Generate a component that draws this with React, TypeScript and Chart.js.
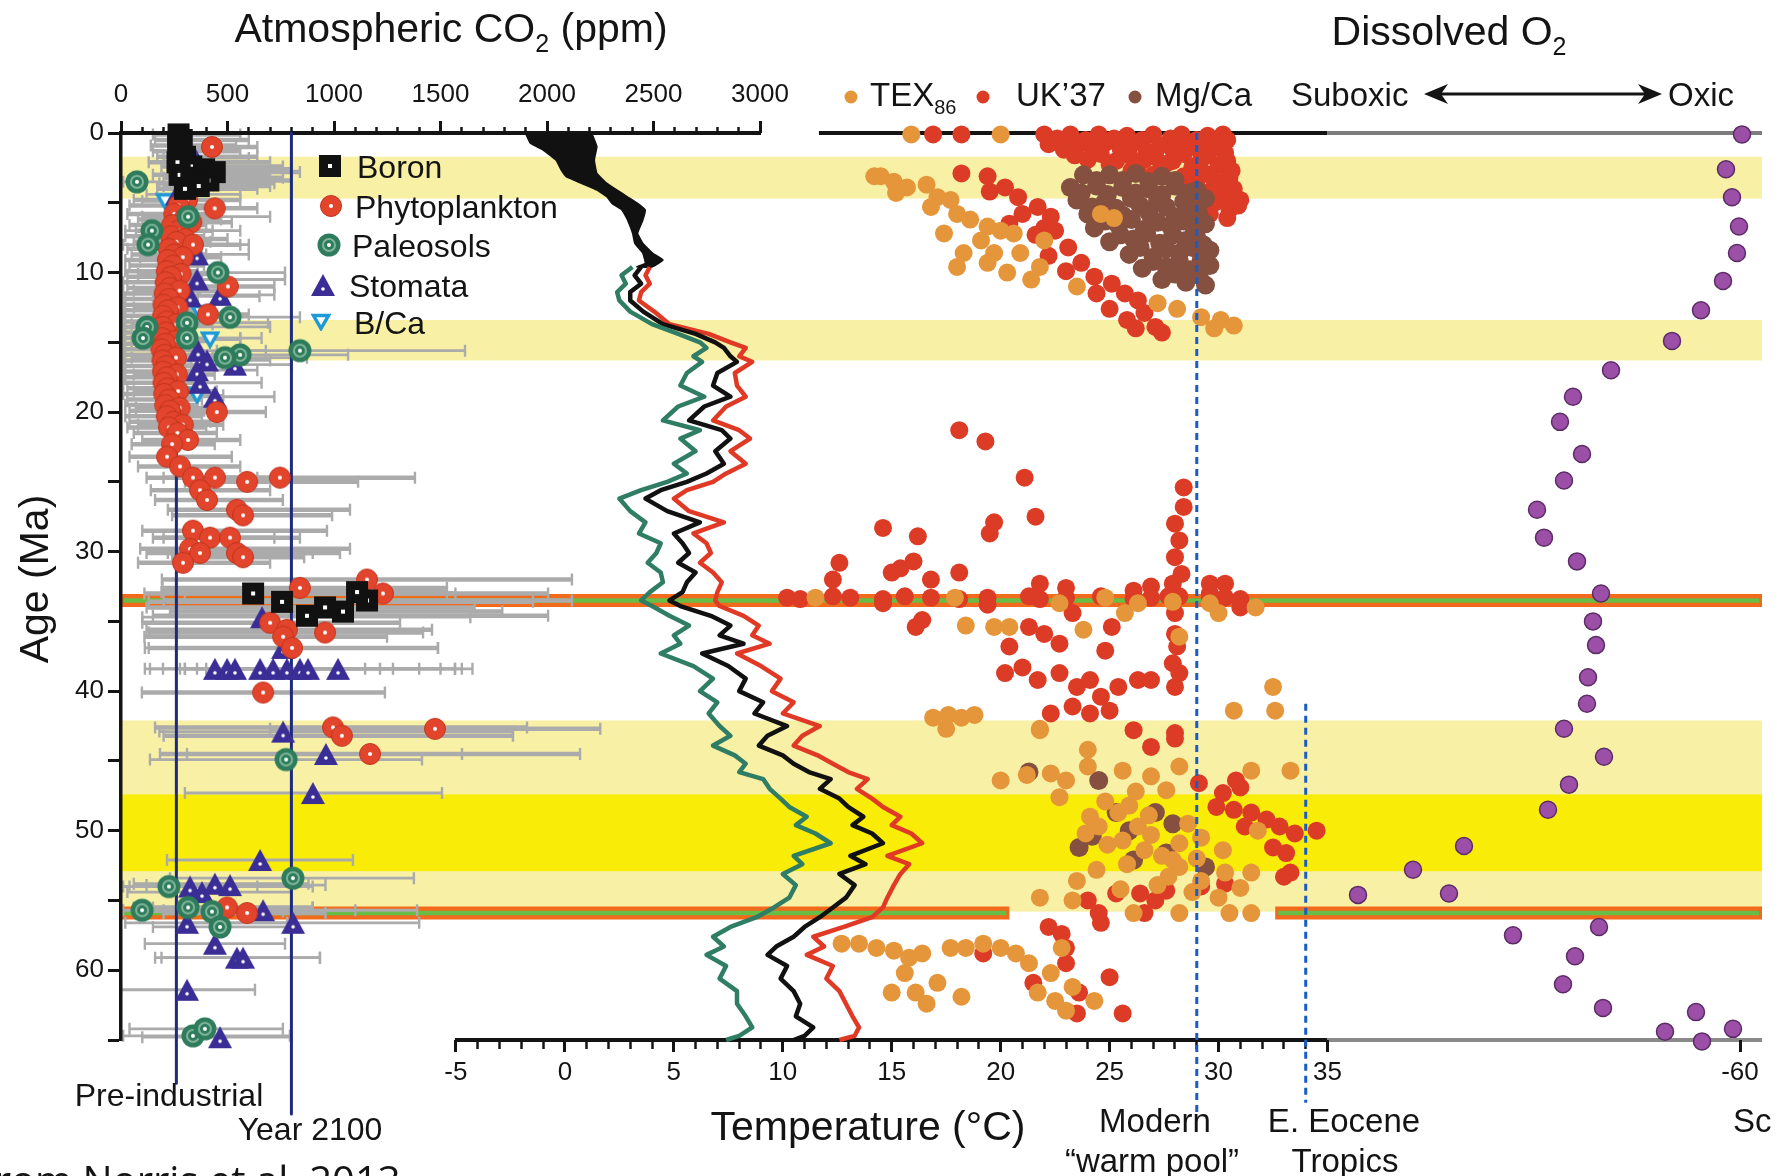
import React, { useEffect, useRef } from 'react';
import { Chart, registerables } from 'chart.js';

Chart.register(...registerables);

const FONT = '"Liberation Sans", Arial, Helvetica, sans-serif';
const INK = '#141414';

// ---------------- axes ----------------
const AGE_RANGE = [0, 65];
const CO2_RANGE = [0, 7704];
const TEMP_RANGE = [-20.37, 54.94];
const O2_RANGE = [-62.2, 101.9];
const CO2_MAJOR_TICKS = [0, 500, 1000, 1500, 2000, 2500, 3000];
const TEMP_MAJOR_TICKS = [-5, 0, 5, 10, 15, 20, 25, 30, 35];
const O2_TICKS = [-60];

// ---------------- reference lines / bands ----------------
const PRE_INDUSTRIAL_CO2 = 260;
const YEAR_2100_CO2 = 800;
const PRE_INDUSTRIAL_AGES = [0, 68.1];
const YEAR_2100_AGES = [0, 70.3];
const WARM_POOL_T = 29;
const WARM_POOL_AGES = [0, 70.2];
const EOCENE_TROPICS_T = 34;
const EOCENE_TROPICS_AGES = [40.9, 69.5];
const LIGHT_BANDS = [[1.7, 4.7], [13.4, 16.3], [42.1, 55.8]];
const BRIGHT_BANDS = [[47.4, 52.9]];
const EOT_AGE = 33.5;
const PETM_AGE = 55.9;
const PETM_GAP_T = [20.4, 32.6];

// ---------------- CO2 proxies: [age Ma, CO2 ppm, low, high] ----------------
const BORON = [
  [0.1, 270, 150, 560], [0.5, 285, 160, 600], [0.9, 268, 140, 540], [1.3, 280, 150, 560],
  [1.7, 300, 170, 640], [2.1, 265, 130, 700], [2.4, 330, 190, 760], [2.6, 390, 220, 800],
  [2.8, 440, 260, 840], [3.0, 275, 150, 700], [3.2, 350, 200, 760], [3.4, 410, 230, 800],
  [3.6, 330, 180, 720], [3.8, 365, 200, 700], [4.0, 300, 170, 640],
  [33.0, 620, 110, 1570], [33.6, 756, 130, 1934], [34.6, 873, 150, 2005], [34.0, 958, 120, 1660],
  [34.3, 1042, 230, 1790], [33.5, 1155, 200, 2117], [32.9, 1108, 190, 1530],
];
const PHYTOPLANKTON = [
  [1.0, 427, 240, 640], [4.8, 310, 60, 560], [5.2, 270, 40, 480], [5.4, 440, 240, 640],
  [5.8, 250, 30, 420], [6.2, 295, 80, 470], [6.4, 330, 120, 520], [6.6, 240, 40, 400], [7.0, 270, 70, 430],
  [7.4, 235, 20, 390], [7.6, 300, 100, 500], [7.8, 260, 60, 420], [8.0, 338, 150, 560], [8.3, 225, 30, 380],
  [8.7, 250, 50, 400], [8.9, 290, 90, 470], [9.1, 220, 20, 370], [9.5, 245, 40, 390], [9.9, 215, 20, 360],
  [10.1, 280, 80, 460], [10.3, 235, 30, 380], [10.7, 210, 10, 350], [11.0, 502, 300, 720], [11.1, 230, 30, 370],
  [11.3, 275, 60, 450], [11.5, 205, 10, 340], [11.9, 225, 20, 360], [12.3, 200, 10, 330], [12.5, 265, 60, 440],
  [12.7, 220, 20, 350], [13.0, 408, 220, 600], [13.1, 198, 10, 330], [13.5, 215, 20, 340], [13.7, 260, 50, 430],
  [13.9, 195, 10, 320], [14.3, 210, 20, 330], [14.7, 192, 10, 320], [14.9, 255, 50, 420], [15.1, 208, 20, 340],
  [15.5, 190, 10, 330], [15.9, 205, 20, 340], [16.1, 258, 50, 430], [16.3, 195, 10, 330], [16.7, 212, 20, 350],
  [17.1, 198, 10, 330], [17.3, 262, 60, 440], [17.5, 215, 20, 360], [17.9, 200, 10, 340], [18.3, 218, 30, 370],
  [18.5, 268, 60, 450], [18.7, 203, 10, 350], [19.1, 225, 30, 380], [19.5, 208, 20, 360], [19.7, 275, 70, 470],
  [19.9, 230, 40, 390], [20.0, 450, 260, 680], [20.3, 215, 20, 380], [20.7, 245, 40, 420], [20.9, 290, 80, 480],
  [21.1, 225, 30, 400], [21.5, 265, 60, 450], [22.0, 315, 100, 560], [22.3, 240, 50, 440],
  [23.2, 216, 40, 520], [23.9, 277, 80, 560],
  [24.7, 338, 120, 640], [24.7, 441, 200, 760], [25.0, 592, 300, 1113], [24.7, 746, 420, 1380],
  [25.6, 371, 140, 700], [26.3, 404, 160, 760], [27.0, 544, 220, 1075], [27.4, 573, 240, 991],
  [28.5, 338, 100, 967], [29.0, 418, 150, 720], [29.0, 512, 200, 840], [29.8, 324, 90, 1075],
  [30.1, 371, 120, 1028], [30.1, 544, 220, 900], [30.4, 573, 240, 860], [30.8, 291, 80, 700],
  [32.6, 840, 195, 1530], [32.0, 1155, 192, 2117], [33.0, 1230, 300, 2005], [35.1, 700, 100, 1310],
  [35.6, 779, 120, 1460], [35.8, 958, 130, 1418], [36.1, 761, 110, 1249], [36.9, 803, 130, 1488],
  [40.1, 667, 98, 1239], [42.6, 995, 160, 1906], [43.2, 1037, 200, 1840], [42.7, 1474, 700, 2250],
  [44.5, 1169, 183, 2155], [55.5, 498, 150, 900], [55.9, 592, 200, 960],
];
const PALEOSOLS = [
  [3.5, 75, 10, 640], [6.0, 315, 100, 700], [7.0, 145, 20, 560], [8.0, 127, 10, 600],
  [10.0, 455, 200, 770], [13.2, 512, 250, 840], [13.6, 310, 100, 690], [13.9, 122, 10, 700],
  [14.7, 103, 10, 560], [14.7, 310, 120, 660], [15.6, 840, 450, 1615], [15.9, 559, 250, 1066],
  [16.1, 488, 200, 873], [44.9, 775, 136, 1413], [53.4, 807, 230, 1375], [54.0, 225, 40, 640],
  [55.7, 99, 10, 1390], [55.5, 315, 60, 900], [55.8, 427, 120, 760], [56.9, 465, 150, 800],
  [64.7, 338, 10, 793], [64.2, 394, 40, 760],
];
const STOMATA = [
  [1.8, 347, 200, 600], [4.4, 263, 120, 560], [8.7, 357, 180, 600], [10.5, 357, 200, 770],
  [11.7, 324, 150, 650], [11.6, 465, 250, 720], [15.6, 362, 180, 680], [16.3, 404, 200, 700],
  [16.6, 535, 300, 800], [17.0, 357, 150, 640], [17.9, 371, 180, 660], [18.9, 441, 220, 720],
  [34.7, 662, 100, 1640], [36.9, 761, 112, 1488], [38.4, 441, 112, 1146], [38.4, 498, 136, 1216],
  [38.4, 535, 197, 1277], [38.4, 653, 277, 1568], [38.4, 714, 300, 1400], [38.4, 779, 357, 1500],
  [38.4, 840, 300, 1600], [38.4, 878, 400, 1650], [38.4, 1019, 500, 1568], [42.9, 761, 180, 1840],
  [44.5, 962, 310, 1601], [47.3, 901, 300, 1507], [52.1, 653, 216, 1089], [54.0, 324, 10, 900],
  [54.4, 380, 30, 800], [53.8, 441, 60, 880], [53.9, 512, 120, 960], [55.7, 667, 200, 1100],
  [56.6, 310, 20, 780], [56.6, 808, 300, 1400], [58.1, 441, 112, 770], [59.1, 544, 160, 934],
  [59.1, 573, 190, 934], [61.4, 310, 0, 629], [64.8, 465, 100, 800],
];
const B_CA = [[4.9, 207, 100, 350], [12.9, 371, 250, 520], [14.8, 418, 300, 560], [18.8, 357, 250, 480]];

// ---------------- deep-sea temperature (°C) ----------------
const BAND_LEFT_AGES = [0.0, 0.74, 1.22, 1.94, 2.65, 3.13, 3.61, 4.09, 4.57, 5.04, 5.52, 6.24, 7.19, 7.91, 8.62, 9.34, 9.6];
const BAND_LEFT_T = [-1.81, -1.58, -1.0, -0.41, -0.17, 0.06, 0.76, 1.47, 1.93, 2.16, 2.62, 2.88, 3.11, 3.21, 3.58, 3.69, 3.3];
const BAND_RIGHT_AGES = [0.0, 0.98, 1.94, 2.89, 3.61, 4.09, 4.57, 5.04, 5.52, 6.24, 7.19, 7.91, 8.62, 9.1, 9.6];
const BAND_RIGHT_T = [1.23, 1.47, 1.35, 1.47, 1.93, 2.4, 2.87, 3.34, 3.69, 3.58, 3.34, 3.58, 4.04, 4.51, 4.0];

const CURVE_AGES = [9.6, 10.2, 10.8, 11.4, 12.0, 12.8, 13.7, 14.4, 15.0, 15.4, 16.0, 16.4, 17.2, 18.1, 18.9, 19.6, 20.6, 21.3, 21.9, 22.8, 23.7, 24.4, 25.0, 25.6, 26.2, 27.1, 27.9, 28.7, 29.4, 30.1, 30.8, 31.5, 32.2, 32.9, 33.5, 33.9, 34.6, 35.3, 36.0, 36.6, 37.3, 38.2, 39.1, 40.0, 40.8, 41.6, 42.5, 43.2, 43.9, 44.6, 45.2, 45.8, 46.3, 47.0, 47.7, 48.3, 49.0, 49.6, 50.2, 50.9, 51.8, 52.4, 53.1, 53.9, 54.8, 55.5, 56.2, 56.9, 57.6, 58.3, 58.9, 59.7, 60.6, 61.5, 62.4, 63.3, 64.1, 64.7, 65.0];
const GREEN_T = [3.1, 2.6, 2.8, 2.4, 2.5, 3.0, 4.0, 5.2, 6.2, 6.5, 5.9, 6.3, 5.6, 5.3, 6.4, 5.2, 4.5, 6.2, 5.3, 6.0, 5.0, 5.6, 4.7, 3.5, 2.5, 3.0, 3.7, 3.4, 4.4, 4.2, 3.8, 4.4, 4.5, 3.9, 3.5, 4.0, 4.8, 5.7, 5.0, 5.3, 4.4, 5.9, 6.8, 6.2, 7.0, 6.6, 7.1, 7.6, 6.8, 7.8, 8.3, 8.0, 9.1, 9.4, 9.9, 10.3, 11.1, 10.6, 11.5, 12.2, 10.5, 10.9, 10.0, 10.6, 10.3, 9.6, 8.8, 7.6, 6.8, 7.3, 6.5, 7.4, 7.1, 7.9, 7.9, 8.3, 8.6, 8.0, 7.4];
const BLACK_T = [3.5, 3.2, 3.5, 3.0, 3.0, 3.6, 4.5, 6.0, 6.9, 7.3, 7.6, 7.9, 7.0, 6.8, 7.6, 6.4, 5.7, 7.2, 7.6, 6.9, 7.3, 6.5, 5.6, 4.4, 3.7, 4.7, 6.2, 5.0, 5.4, 5.7, 5.2, 6.0, 5.6, 5.4, 4.8, 5.3, 6.7, 7.6, 7.1, 8.2, 6.3, 7.5, 8.3, 8.0, 9.1, 8.7, 10.2, 9.3, 8.9, 10.0, 10.5, 11.2, 12.2, 11.7, 12.6, 13.0, 13.7, 13.2, 14.1, 14.6, 13.1, 13.8, 12.6, 13.3, 12.9, 12.3, 11.7, 11.0, 10.5, 9.7, 9.3, 10.2, 9.9, 10.5, 10.8, 10.6, 11.4, 11.0, 10.5];
const RED_T = [3.9, 3.7, 3.9, 3.5, 3.4, 4.1, 4.8, 6.6, 7.6, 8.3, 8.0, 8.6, 7.8, 7.9, 8.3, 7.4, 6.8, 8.0, 8.5, 7.6, 8.3, 7.4, 6.8, 5.6, 5.0, 5.7, 7.3, 5.9, 6.5, 6.7, 6.2, 6.8, 7.2, 7.0, 6.9, 7.1, 8.2, 8.9, 8.6, 9.4, 7.9, 9.0, 9.9, 9.5, 10.5, 10.0, 11.7, 10.9, 10.5, 11.6, 12.3, 13.0, 13.9, 13.4, 14.1, 14.6, 15.4, 15.0, 15.9, 16.4, 14.8, 15.8, 15.4, 15.1, 14.8, 14.6, 14.1, 12.8, 11.4, 11.9, 11.1, 12.3, 12.0, 12.6, 12.9, 13.2, 13.5, 13.3, 12.6];

// ---------------- surface temperature proxies: [T °C, age Ma] ----------------
const UK37 = [
  [16.9, 0.1], [18.2, 0.1], [22.0, 0.1], [23.2, 0.1], [24.5, 0.1], [25.8, 0.2], [27.0, 0.1], [28.3, 0.1], [29.5, 0.2], [30.2, 0.1],
  [22.6, 0.4], [23.9, 0.5], [25.2, 0.4], [26.5, 0.5], [27.8, 0.4], [29.0, 0.5], [30.4, 0.5],
  [22.2, 0.8], [23.5, 0.9], [24.8, 0.7], [26.0, 0.8], [27.3, 0.9], [28.5, 0.8], [29.7, 0.9],
  [22.9, 1.2], [24.2, 1.2], [25.5, 1.1], [26.7, 1.3], [27.9, 1.2], [29.1, 1.2], [30.1, 1.1],
  [23.4, 1.6], [24.6, 1.5], [25.9, 1.6], [27.1, 1.7], [28.4, 1.5], [29.5, 1.6], [30.3, 1.4],
  [24.0, 1.9], [25.3, 2.0], [26.6, 1.9], [27.9, 2.0], [29.2, 1.9], [30.4, 2.0],
  [25.0, 2.3], [26.3, 2.4], [27.6, 2.2], [28.8, 2.4], [30.0, 2.3], [26.0, 2.7], [27.3, 2.7], [29.2, 2.7], [30.6, 2.7],
  [27.0, 3.0], [28.4, 3.1], [29.6, 3.0], [30.5, 3.2], [29.0, 3.4], [30.2, 3.5],
  [28.6, 3.8], [29.8, 3.9], [30.7, 4.0], [29.4, 4.3], [30.6, 4.3], [29.0, 4.7], [30.2, 4.6], [31.0, 4.8],
  [29.8, 5.0], [30.9, 5.2], [29.4, 5.4], [30.5, 5.5], [29.6, 5.8], [29.2, 6.0], [30.4, 6.1],
  [18.2, 2.9], [19.4, 3.1], [20.2, 3.9], [19.5, 4.2], [20.8, 4.6], [21.7, 5.3], [21.0, 5.8], [22.3, 6.0], [20.4, 6.5], [22.0, 6.8],
  [22.5, 7.0], [21.6, 7.3], [23.1, 8.2], [22.2, 8.8], [23.7, 9.3], [23.0, 9.9], [24.3, 10.3], [25.1, 10.8], [24.4, 11.5], [25.7, 11.5],
  [26.3, 12.0], [25.0, 12.6], [26.6, 12.9], [25.8, 13.4], [27.1, 13.9], [26.2, 14.0], [27.4, 14.3],
  [18.1, 21.3], [19.3, 22.1], [21.1, 24.7], [21.6, 27.5], [14.6, 28.3], [16.2, 28.9], [19.7, 27.9], [19.5, 28.7],
  [28.4, 25.4], [28.4, 26.8], [28.0, 28.0], [28.2, 29.2], [28.0, 30.4], [28.3, 31.6], [27.9, 32.3], [28.2, 33.2], [28.0, 34.4],
  [28.0, 35.9], [28.1, 36.8], [27.9, 38.0], [28.2, 38.7], [28.0, 39.7],
  [10.2, 33.3], [10.8, 33.4], [12.3, 33.2], [13.1, 33.3], [14.6, 33.4], [15.6, 33.2], [16.8, 33.3], [18.1, 33.4], [19.4, 33.3],
  [21.3, 33.2], [21.8, 33.4], [23.0, 33.3], [24.6, 33.2], [26.1, 33.4], [26.9, 33.3], [27.7, 33.2], [29.6, 33.4], [30.3, 33.3], [31.0, 33.4],
  [12.6, 30.8], [12.3, 32.0], [15.0, 31.5], [15.4, 31.2], [16.0, 30.7], [16.8, 32.0], [18.1, 31.5], [21.8, 32.3], [23.0, 32.6],
  [26.1, 32.8], [26.9, 32.5], [29.6, 32.3], [30.3, 32.3],
  [16.1, 35.4], [16.4, 34.9], [14.6, 33.7], [19.4, 33.8], [20.4, 36.8], [21.3, 35.4], [22.0, 35.9], [22.7, 36.6], [23.3, 34.4],
  [24.8, 37.1], [25.1, 35.4], [20.2, 38.7], [21.0, 38.3], [21.7, 39.2], [22.7, 38.7], [23.5, 39.7], [24.1, 39.2], [24.6, 40.4],
  [25.4, 39.7], [26.3, 39.2], [26.9, 39.2], [22.3, 41.6], [23.3, 41.1], [24.1, 41.6], [25.0, 41.4], [26.1, 42.8], [28.0, 43.0],
  [29.6, 33.0], [31.0, 34.0],
  [26.9, 44.0], [28.0, 43.4], [29.1, 46.6], [30.2, 47.3], [31.0, 46.9], [29.9, 48.3], [30.7, 48.5], [31.5, 48.7], [32.2, 49.2],
  [32.8, 49.7], [33.5, 50.2], [34.5, 50.0], [32.5, 51.2], [33.1, 51.6], [31.2, 49.7], [33.0, 53.3], [33.3, 53.0], [30.3, 53.8],
  [29.2, 54.0], [30.8, 46.4],
  [24.0, 55.0], [24.5, 55.9], [24.6, 56.6], [25.3, 54.5], [26.4, 54.5], [27.1, 55.0], [27.6, 54.3], [26.6, 55.9],
  [22.2, 56.9], [22.8, 57.4], [23.0, 58.4], [23.0, 59.5], [25.0, 60.5], [23.6, 61.6], [23.5, 63.1], [25.6, 63.1], [21.5, 60.9], [19.2, 58.8],
];
const TEX86 = [
  [15.9, 0.1], [20.0, 0.1],
  [14.5, 3.1], [15.1, 3.5], [15.7, 3.9], [15.2, 4.3], [16.6, 3.7], [17.1, 4.6], [17.7, 4.8], [16.8, 5.3], [18.0, 5.8], [18.6, 6.2],
  [19.4, 6.7], [20.0, 7.0], [20.6, 7.2], [19.1, 7.7], [19.7, 8.6], [18.0, 9.6], [19.4, 9.3], [20.3, 10.0], [21.8, 9.6], [21.4, 10.5],
  [18.3, 8.6], [17.4, 7.2], [20.9, 8.6], [23.5, 11.0], [22.0, 7.7], [24.6, 5.8], [25.2, 6.1], [27.2, 12.2], [28.1, 12.6], [29.2, 13.2],
  [30.1, 13.4], [30.7, 13.8], [29.8, 14.0], [14.2, 3.1],
  [11.5, 33.3], [17.9, 33.3], [18.4, 35.3], [19.7, 35.4], [20.4, 35.4], [22.7, 33.7], [23.8, 35.6], [24.8, 33.3], [25.7, 34.4],
  [26.3, 33.7], [27.9, 33.6], [28.2, 36.1], [29.6, 33.7], [30.0, 34.4], [31.7, 34.0],
  [16.9, 41.9], [17.6, 41.7], [18.2, 41.9], [18.8, 41.7], [17.5, 42.7], [32.5, 39.7], [32.6, 41.4], [30.7, 41.4], [21.8, 42.7],
  [21.8, 42.8], [20.0, 46.4], [21.2, 46.0], [22.3, 45.9], [23.0, 46.4], [22.7, 47.6], [24.0, 44.2], [24.0, 45.4], [25.6, 45.7],
  [26.9, 46.1], [27.6, 47.1], [28.2, 45.4], [31.5, 45.7], [33.3, 45.7], [24.1, 49.0], [25.4, 48.7], [26.3, 49.7], [25.6, 50.7],
  [26.6, 51.4], [27.9, 52.1], [28.2, 50.9], [29.2, 50.5], [30.2, 51.4], [30.3, 53.0], [31.0, 54.1], [31.5, 53.0], [29.2, 53.6],
  [30.0, 54.8], [28.2, 52.6], [27.7, 53.3], [21.8, 54.8], [23.3, 55.0], [26.1, 55.9], [28.2, 55.9], [30.5, 55.9], [31.5, 55.9],
  [31.8, 50.0], [24.5, 49.7], [24.8, 47.9], [25.9, 48.2], [26.8, 48.9], [23.9, 50.2], [24.9, 51.0], [25.8, 52.4], [26.9, 50.3],
  [27.4, 51.8], [28.6, 49.5], [29.0, 52.0], [24.4, 52.8], [27.2, 53.9], [28.8, 54.4], [25.5, 54.2], [23.5, 53.6], [26.2, 47.2],
  [12.7, 58.1], [13.5, 58.1], [14.3, 58.4], [15.1, 58.6], [15.8, 59.1], [15.6, 60.2], [16.4, 58.8], [17.7, 58.4], [18.4, 58.4],
  [19.2, 58.1], [20.0, 58.4], [20.7, 58.8], [21.3, 59.5], [22.3, 60.2], [22.8, 58.4], [15.0, 61.6], [16.1, 61.6], [16.6, 62.4],
  [17.1, 60.9], [18.2, 61.9], [21.7, 61.6], [22.5, 62.2], [23.3, 61.2], [23.0, 62.9], [24.3, 62.2],
];
const MG_CA = [
  [23.8, 3.0], [25.0, 3.0], [26.2, 2.9], [27.4, 3.1], [24.4, 3.4], [25.6, 3.4], [26.8, 3.5], [28.0, 3.4],
  [23.2, 3.9], [24.4, 3.8], [25.6, 3.9], [26.8, 4.0], [28.0, 3.8], [29.0, 4.1],
  [23.7, 4.3], [24.9, 4.4], [26.2, 4.3], [27.4, 4.4], [28.6, 4.3],
  [23.5, 4.8], [24.8, 4.9], [26.0, 4.7], [27.2, 4.8], [28.4, 4.9], [29.4, 4.7],
  [24.2, 5.3], [25.3, 5.4], [26.4, 5.2], [27.6, 5.3], [28.7, 5.4],
  [24.0, 5.8], [25.6, 5.9], [26.8, 5.7], [28.0, 6.0], [29.1, 5.8],
  [24.8, 6.3], [26.0, 6.2], [27.2, 6.4], [28.4, 6.3], [29.4, 6.5],
  [24.3, 6.8], [25.4, 6.6], [26.6, 6.9], [27.8, 6.7], [28.9, 7.0],
  [25.5, 7.3], [26.7, 7.2], [27.9, 7.3], [29.0, 7.5],
  [25.0, 7.8], [26.1, 7.6], [27.3, 7.9], [28.5, 7.7], [29.3, 8.0],
  [26.4, 8.2], [27.6, 8.3], [28.8, 8.2], [29.6, 8.4],
  [25.9, 8.7], [27.0, 8.9], [28.2, 8.6], [29.4, 8.8], [27.0, 9.2], [28.2, 9.2], [29.2, 9.1],
  [26.5, 9.7], [27.6, 9.6], [28.7, 9.8], [29.6, 9.5], [28.0, 10.1], [29.1, 10.2], [27.4, 10.5], [28.5, 10.7], [29.4, 10.9],
  [21.3, 45.8], [24.5, 46.4], [25.3, 48.7], [23.6, 51.2], [27.1, 48.7], [27.9, 49.5], [27.6, 51.6], [29.4, 52.6], [26.1, 52.1],
  [24.2, 50.4], [25.9, 50.0],
];

// ---------------- dissolved O2 (schematic index): [age Ma, value] ----------------
const O2 = [
  [0.1, -60.2], [2.6, -58.6], [4.6, -59.2], [6.7, -59.9], [8.6, -59.7], [10.6, -58.3], [12.7, -56.1], [14.9, -53.2], [17.0, -47.1],
  [18.9, -43.3], [20.7, -42.0], [23.0, -44.2], [24.9, -42.4], [27.0, -39.7], [29.0, -40.4], [30.7, -43.7], [33.0, -46.1], [35.0, -45.3],
  [36.7, -45.6], [39.0, -44.8], [40.9, -44.7], [42.7, -42.4], [44.7, -46.4], [46.7, -42.9], [48.5, -40.8], [51.1, -32.4], [52.8, -27.3],
  [54.6, -21.8], [54.5, -30.9], [57.5, -37.3], [56.9, -45.9], [59.0, -43.5], [61.0, -42.3], [62.7, -46.3], [63.0, -55.6], [64.4, -52.5],
  [64.2, -59.3], [65.1, -56.2],
];

// ---------------- colours ----------------
const C = {
  lightBand: '#f8f0a4', brightBand: '#f9ec06', evtOrange: '#f26a1b', evtGreen: '#68bd46',
  errBar: '#ababab', navy: '#1d2a7d', dash: '#1b5cc4', green: '#2f7d64', black: '#111111', red: '#e03a26',
  tex: '#e5953a', uk: '#dc3b26', mgca: '#855040', purple: '#9b4fa6', purpleEdge: '#5c2c66',
};

type Icons = { boron: HTMLCanvasElement; phyto: HTMLCanvasElement; paleo: HTMLCanvasElement; stomata: HTMLCanvasElement; bca: HTMLCanvasElement };

function makeIcons(): Icons {
  const mk = (w: number, h: number, draw: (g: CanvasRenderingContext2D) => void) => {
    const c = document.createElement('canvas');
    c.width = w; c.height = h;
    draw(c.getContext('2d')!);
    return c;
  };
  const circle = (g: CanvasRenderingContext2D, x: number, y: number, r: number) => { g.beginPath(); g.arc(x, y, r, 0, Math.PI * 2); };
  return {
    boron: mk(24, 24, g => { g.fillStyle = '#111'; g.fillRect(1, 1, 22, 22); g.fillStyle = '#fff'; g.fillRect(10, 10, 4, 4); }),
    phyto: mk(24, 24, g => {
      g.fillStyle = '#e2452c'; circle(g, 12, 12, 10.5); g.fill();
      g.strokeStyle = '#c1341e'; g.lineWidth = 1; g.stroke();
      g.fillStyle = '#fff'; circle(g, 12, 12, 2); g.fill();
    }),
    paleo: mk(26, 26, g => {
      g.fillStyle = '#2e7c5b'; circle(g, 13, 13, 11.5); g.fill();
      g.strokeStyle = '#7fb59b'; g.lineWidth = 2; circle(g, 13, 13, 6); g.stroke();
      g.fillStyle = '#fff'; circle(g, 13, 13, 2); g.fill();
    }),
    stomata: mk(26, 24, g => {
      g.fillStyle = '#3a2e96'; g.beginPath(); g.moveTo(13, 1); g.lineTo(25, 23); g.lineTo(1, 23); g.closePath(); g.fill();
      g.fillStyle = '#fff'; circle(g, 13, 16, 1.8); g.fill();
    }),
    bca: mk(20, 18, g => {
      g.fillStyle = '#fff'; g.strokeStyle = '#1e9bd7'; g.lineWidth = 3.5;
      g.beginPath(); g.moveTo(2.5, 2.5); g.lineTo(17.5, 2.5); g.lineTo(10, 15.5); g.closePath(); g.fill(); g.stroke();
    }),
  };
}

const pt = (x: number, y: number) => ({ x, y });

function lineDs(label: string, xAxisID: string, data: any[], color: string, width: number, order: number, extra: any = {}) {
  return { label, xAxisID, yAxisID: 'y', data, showLine: true, borderColor: color, backgroundColor: color, borderWidth: width, pointRadius: 0, fill: false, clip: false, order, borderJoinStyle: 'round', ...extra };
}
function dotDs(label: string, xAxisID: string, data: any[], style: any, color: string, r: number, order: number, extra: any = {}) {
  return { label, xAxisID, yAxisID: 'y', data, showLine: false, pointStyle: style, pointRadius: r, pointBackgroundColor: color, pointBorderColor: color, pointBorderWidth: 0, clip: false, order, ...extra };
}

function buildDatasets(icons: Icons) {
  const proxy = (rows: number[][]) => rows.map(([age, co2, lo, hi]) => ({ x: co2, y: age, lo, hi }));
  const tempPts = (rows: number[][]) => rows.map(([t, age]) => pt(t, age));
  const curve = (vals: number[]) => CURVE_AGES.map((a, i) => pt(vals[i], a));
  const band = BAND_LEFT_AGES.map((a, i) => pt(BAND_LEFT_T[i], a))
    .concat(BAND_RIGHT_AGES.map((a, i) => pt(BAND_RIGHT_T[i], a)).reverse());
  return [
    lineDs('Modern warm pool', 'xT', WARM_POOL_AGES.map(a => pt(WARM_POOL_T, a)), C.dash, 3, 0, { borderDash: [7, 5] }),
    lineDs('E. Eocene tropics', 'xT', EOCENE_TROPICS_AGES.map(a => pt(EOCENE_TROPICS_T, a)), C.dash, 3, 0, { borderDash: [7, 5] }),
    lineDs('Pre-industrial', 'xCO2', PRE_INDUSTRIAL_AGES.map(a => pt(PRE_INDUSTRIAL_CO2, a)), C.navy, 3, 30),
    lineDs('Year 2100', 'xCO2', YEAR_2100_AGES.map(a => pt(YEAR_2100_CO2, a)), C.navy, 3, 30),
    lineDs('Deep-sea T (0-10 Ma)', 'xT', band, C.black, 1.5, 9, { fill: 'shape', backgroundColor: C.black, tension: 0.1 }),
    lineDs('Deep-sea T (low)', 'xT', curve(GREEN_T), C.green, 4.5, 8, { tension: 0 }),
    lineDs('Deep-sea T (mid)', 'xT', curve(BLACK_T), C.black, 4.5, 8, { tension: 0 }),
    lineDs('Deep-sea T (high)', 'xT', curve(RED_T), C.red, 4.5, 8, { tension: 0 }),
    dotDs("UK'37", 'xT', tempPts(UK37), 'circle', C.uk, 9, 14),
    dotDs('Mg/Ca', 'xT', tempPts(MG_CA), 'circle', C.mgca, 9.5, 13),
    dotDs('TEX86', 'xT', tempPts(TEX86), 'circle', C.tex, 9, 12),
    dotDs('Dissolved O2', 'xO2', O2.map(([a, v]) => pt(v, a)), 'circle', C.purple, 8.5, 1, { pointBorderColor: C.purpleEdge, pointBorderWidth: 1.5 }),
    dotDs('B/Ca', 'xCO2', proxy(B_CA), icons.bca, '#1e9bd7', 9, 6),
    dotDs('Stomata', 'xCO2', proxy(STOMATA), icons.stomata, '#3a2e96', 11, 5),
    dotDs('Phytoplankton', 'xCO2', proxy(PHYTOPLANKTON), icons.phyto, '#e2452c', 11, 4),
    dotDs('Paleosols', 'xCO2', proxy(PALEOSOLS), icons.paleo, '#2e7c5b', 12, 3),
    dotDs('Boron', 'xCO2', proxy(BORON), icons.boron, '#111', 12, 2),
  ];
}

function text(ctx: CanvasRenderingContext2D, s: string, x: number, y: number, size: number, align: CanvasTextAlign = 'left', family = FONT) {
  ctx.font = `${size}px ${family}`;
  ctx.textAlign = align;
  ctx.textBaseline = 'alphabetic';
  ctx.fillText(s, x, y);
}
function rich(ctx: CanvasRenderingContext2D, parts: [string, boolean][], x: number, y: number, size: number, align: 'left' | 'center') {
  const sub = Math.round(size * 0.62);
  let total = 0;
  for (const [t, isSub] of parts) { ctx.font = `${isSub ? sub : size}px ${FONT}`; total += ctx.measureText(t).width; }
  let cx = align === 'center' ? x - total / 2 : x;
  ctx.textAlign = 'left';
  ctx.textBaseline = 'alphabetic';
  for (const [t, isSub] of parts) {
    ctx.font = `${isSub ? sub : size}px ${FONT}`;
    ctx.fillText(t, cx, isSub ? y + size * 0.24 : y);
    cx += ctx.measureText(t).width;
  }
}

function makePlugin(icons: Icons) {
  return {
    id: 'paperFigure',
    afterLayout(chart: any) {
      // the O2 axis shares the temperature axis band: give its labels room below the axis line
      const s = chart.scales.xO2;
      if (s) { s.bottom = s.top + 136; s.height = 136; }
    },
    beforeDraw(chart: any) {
      const { ctx, chartArea: ca, scales } = chart;
      const y = scales.y, xT = scales.xT, xC = scales.xCO2;
      ctx.save();
      const band = (a: number, b: number, color: string) => {
        const y0 = y.getPixelForValue(a), y1 = y.getPixelForValue(b);
        ctx.fillStyle = color;
        ctx.fillRect(ca.left, y0, ca.right - ca.left, y1 - y0);
      };
      LIGHT_BANDS.forEach(([a, b]) => band(a, b, C.lightBand));
      BRIGHT_BANDS.forEach(([a, b]) => band(a, b, C.brightBand));
      const evt = (age: number, x0: number, x1: number) => {
        const py = y.getPixelForValue(age);
        ctx.lineCap = 'butt';
        ctx.strokeStyle = C.evtOrange; ctx.lineWidth = 13;
        ctx.beginPath(); ctx.moveTo(x0, py); ctx.lineTo(x1, py); ctx.stroke();
        ctx.strokeStyle = C.evtGreen; ctx.lineWidth = 4.5;
        ctx.beginPath(); ctx.moveTo(x0 + 3, py); ctx.lineTo(x1 - 3, py); ctx.stroke();
      };
      evt(EOT_AGE, ca.left, ca.right);
      evt(PETM_AGE, ca.left, xT.getPixelForValue(PETM_GAP_T[0]));
      evt(PETM_AGE, xT.getPixelForValue(PETM_GAP_T[1]), ca.right);
      ctx.strokeStyle = C.errBar;
      const proxies: [number[][], number][] = [[PALEOSOLS, 2.8], [STOMATA, 2.8], [B_CA, 2.8], [PHYTOPLANKTON, 4.5], [BORON, 4.5]];
      for (const [rows, w] of proxies) {
        ctx.lineWidth = w;
        for (const [age, , lo, hi] of rows) {
          const py = y.getPixelForValue(age);
          const x0 = xC.getPixelForValue(lo), x1 = xC.getPixelForValue(hi);
          ctx.beginPath();
          ctx.moveTo(x0, py); ctx.lineTo(x1, py);
          ctx.stroke();
          ctx.lineWidth = 2.4;
          ctx.beginPath();
          ctx.moveTo(x0, py - 6); ctx.lineTo(x0, py + 6);
          ctx.moveTo(x1, py - 6); ctx.lineTo(x1, py + 6);
          ctx.stroke();
          ctx.lineWidth = w;
        }
      }
      const hline = (x0: number, x1: number, py: number, color: string) => {
        ctx.strokeStyle = color; ctx.lineWidth = 4;
        ctx.beginPath(); ctx.moveTo(x0, py); ctx.lineTo(x1, py); ctx.stroke();
      };
      hline(xC.getPixelForValue(0) - 1, xC.getPixelForValue(3000) + 1, ca.top, INK);
      hline(xT.getPixelForValue(11.66), xT.getPixelForValue(35), ca.top, INK);
      hline(xT.getPixelForValue(35), ca.right, ca.top, '#7c7c7c');
      hline(xT.getPixelForValue(-5) - 1, xT.getPixelForValue(35), ca.bottom, INK);
      hline(xT.getPixelForValue(35), ca.right, ca.bottom, '#8a8a8a');
      ctx.restore();
    },
    afterDraw(chart: any) {
      const { ctx } = chart;
      ctx.save();
      ctx.fillStyle = INK;
      rich(ctx, [['Atmospheric CO', false], ['2', true], [' (ppm)', false]], 451, 42, 41, 'center');
      rich(ctx, [['Dissolved O', false], ['2', true]], 1449, 45, 41, 'center');
      const dot = (x: number, yy: number, color: string) => { ctx.fillStyle = color; ctx.beginPath(); ctx.arc(x, yy, 6.5, 0, Math.PI * 2); ctx.fill(); ctx.fillStyle = INK; };
      dot(851, 97, C.tex); rich(ctx, [['TEX', false], ['86', true]], 870, 106, 33, 'left');
      dot(983, 97, C.uk); text(ctx, 'UK’37', 1016, 106, 33);
      dot(1135, 97, C.mgca); text(ctx, 'Mg/Ca', 1155, 106, 33);
      text(ctx, 'Suboxic', 1291, 106, 33);
      text(ctx, 'Oxic', 1668, 106, 33);
      const ay = 94, ax0 = 1424, ax1 = 1662;
      ctx.strokeStyle = INK; ctx.lineWidth = 3;
      ctx.beginPath(); ctx.moveTo(ax0 + 12, ay); ctx.lineTo(ax1 - 12, ay); ctx.stroke();
      ctx.beginPath(); ctx.moveTo(ax0, ay); ctx.lineTo(ax0 + 24, ay - 10); ctx.lineTo(ax0 + 17, ay); ctx.lineTo(ax0 + 24, ay + 10); ctx.closePath(); ctx.fill();
      ctx.beginPath(); ctx.moveTo(ax1, ay); ctx.lineTo(ax1 - 24, ay - 10); ctx.lineTo(ax1 - 17, ay); ctx.lineTo(ax1 - 24, ay + 10); ctx.closePath(); ctx.fill();
      const legend: [HTMLCanvasElement, string, number, number, number][] = [
        [icons.boron, 'Boron', 330, 166, 357],
        [icons.phyto, 'Phytoplankton', 331, 206, 355],
        [icons.paleo, 'Paleosols', 329, 245, 352],
        [icons.stomata, 'Stomata', 323, 285, 349],
        [icons.bca, 'B/Ca', 321, 322, 354],
      ];
      for (const [img, label, mx, my, tx] of legend) {
        ctx.drawImage(img, mx - img.width / 2, my - img.height / 2);
        text(ctx, label, tx, my + 12, 32);
      }
      ctx.save();
      ctx.translate(48, 579);
      ctx.rotate(-Math.PI / 2);
      text(ctx, 'Age (Ma)', 0, 0, 41, 'center');
      ctx.restore();
      text(ctx, 'Temperature (°C)', 868, 1140, 41, 'center');
      text(ctx, 'Pre-industrial', 169, 1106, 32, 'center');
      text(ctx, 'Year 2100', 310, 1140, 32, 'center');
      text(ctx, 'Modern', 1155, 1132, 33, 'center');
      text(ctx, '“warm pool”', 1152, 1172, 33, 'center');
      text(ctx, 'E. Eocene', 1344, 1132, 33, 'center');
      text(ctx, 'Tropics', 1345, 1172, 33, 'center');
      text(ctx, 'Sc', 1733, 1132, 33);
      text(ctx, 'From Norris et al. 2013', -26, 1195, 40, 'left', '"Open Sans", "Liberation Sans", sans-serif');
      ctx.restore();
    },
  };
}

export default function App() {
  const ref = useRef<HTMLCanvasElement>(null);
  useEffect(() => {
    const canvas = ref.current!;
    const icons = makeIcons();
    const tickFont = { family: FONT, size: 26 };
    const chart = new Chart(canvas, {
      type: 'scatter',
      data: { datasets: buildDatasets(icons) as any },
      options: {
        responsive: false,
        animation: false,
        events: [],
        layout: { padding: { left: 0, right: 17, top: 0, bottom: 0 } },
        plugins: { legend: { display: false }, tooltip: { enabled: false }, title: { display: false } },
        scales: {
          y: {
            type: 'linear', position: 'left', reverse: true, min: AGE_RANGE[0], max: AGE_RANGE[1],
            afterFit: (s: any) => { s.width = 121; },
            ticks: { stepSize: 5, autoSkip: false, padding: 4, font: tickFont, color: INK, callback: (v: any) => (Number(v) % 10 === 0 ? String(v) : '') },
            grid: { display: true, drawOnChartArea: false, drawTicks: true, tickLength: 13, tickWidth: 3, tickColor: INK },
            border: { display: true, color: INK, width: 3.5 },
          },
          xCO2: {
            type: 'linear', position: 'top', weight: 1, min: CO2_RANGE[0], max: CO2_RANGE[1],
            afterFit: (s: any) => { s.height = 133; },
            afterBuildTicks: (s: any) => { s.ticks = CO2_MAJOR_TICKS.map(v => ({ value: v })); },
            ticks: { autoSkip: false, maxRotation: 0, minRotation: 0, padding: 11, font: tickFont, color: INK, callback: (v: any) => String(v) },
            grid: { display: true, drawOnChartArea: false, drawTicks: true, tickLength: 12, tickWidth: 3, tickColor: INK },
            border: { display: false },
          },
          xCO2m: {
            type: 'linear', position: 'top', weight: 0, min: CO2_RANGE[0], max: CO2_RANGE[1],
            afterFit: (s: any) => { s.height = 0; },
            afterBuildTicks: (s: any) => { const t = []; for (let v = 0; v <= 3000; v += 100) t.push({ value: v }); s.ticks = t; },
            ticks: { display: false },
            grid: { display: true, drawOnChartArea: false, drawTicks: true, tickLength: 6, tickWidth: 2.5, tickColor: INK },
            border: { display: false },
          },
          xT: {
            type: 'linear', position: 'bottom', weight: 0, min: TEMP_RANGE[0], max: TEMP_RANGE[1],
            afterFit: (s: any) => { s.height = 136; },
            afterBuildTicks: (s: any) => { s.ticks = TEMP_MAJOR_TICKS.map(v => ({ value: v })); },
            ticks: { autoSkip: false, maxRotation: 0, minRotation: 0, padding: 5, font: tickFont, color: INK, callback: (v: any) => String(v) },
            grid: { display: true, drawOnChartArea: false, drawTicks: true, tickLength: 12, tickWidth: 3, tickColor: INK },
            border: { display: false },
          },
          xTm: {
            type: 'linear', position: 'bottom', weight: -2, min: TEMP_RANGE[0], max: TEMP_RANGE[1],
            afterFit: (s: any) => { s.height = 0; },
            afterBuildTicks: (s: any) => { const t = []; for (let v = -5; v <= 35; v += 1) t.push({ value: v }); s.ticks = t; },
            ticks: { display: false },
            grid: { display: true, drawOnChartArea: false, drawTicks: true, tickLength: 9, tickWidth: 2.5, tickColor: INK },
            border: { display: false },
          },
          xO2: {
            type: 'linear', position: 'bottom', weight: -1, reverse: true, min: O2_RANGE[0], max: O2_RANGE[1],
            afterFit: (s: any) => { s.height = 0; },
            afterBuildTicks: (s: any) => { s.ticks = O2_TICKS.map(v => ({ value: v })); },
            ticks: { autoSkip: false, maxRotation: 0, minRotation: 0, padding: 5, font: tickFont, color: INK, callback: (v: any) => String(v) },
            grid: { display: true, drawOnChartArea: false, drawTicks: true, tickLength: 12, tickWidth: 3, tickColor: INK },
            border: { display: false },
          },
        } as any,
      },
      plugins: [makePlugin(icons)],
    });
    return () => chart.destroy();
  }, []);
  return (
    <div style={{ position: 'absolute', left: 0, top: 0, width: 1779, height: 1176, background: '#fff', overflow: 'hidden' }}>
      <canvas ref={ref} width={1779} height={1176} style={{ display: 'block' }} />
    </div>
  );
}
